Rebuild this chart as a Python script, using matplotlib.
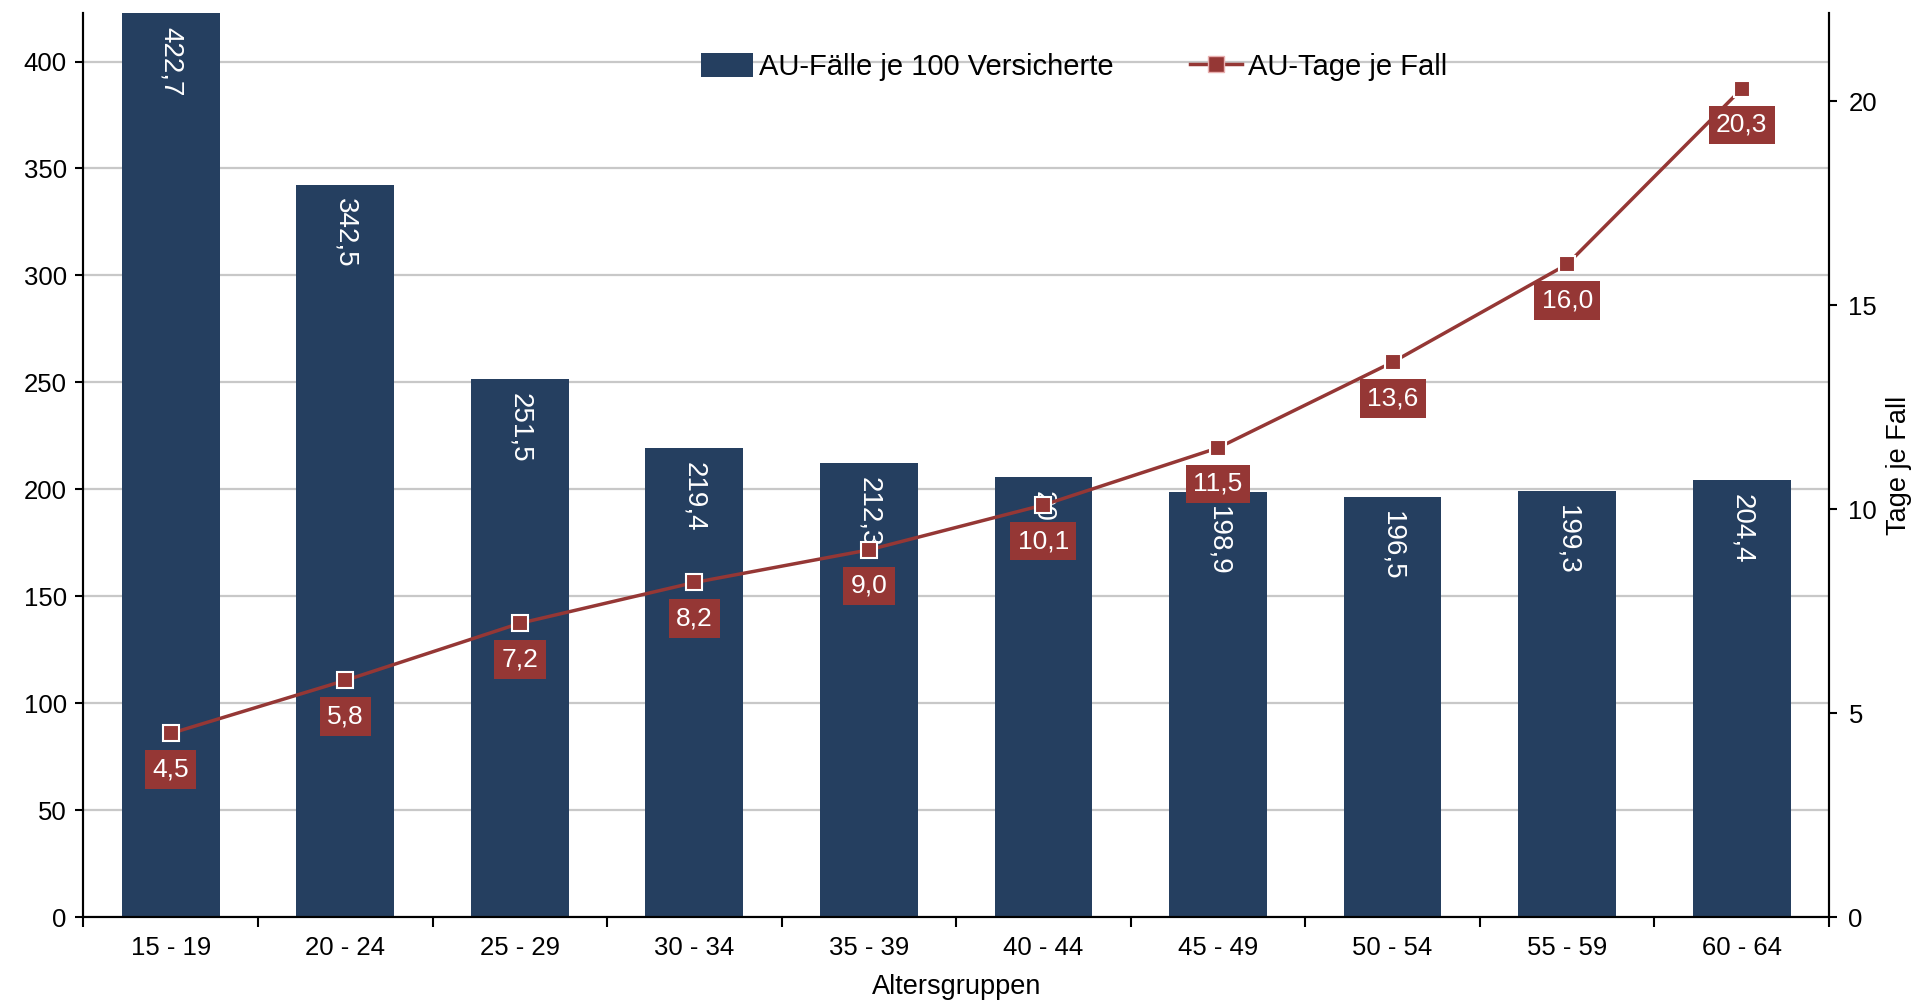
import matplotlib
matplotlib.use("Agg")
import matplotlib.pyplot as plt
from matplotlib.lines import Line2D
from matplotlib.patches import Patch
import numpy as np

categories = ["15 - 19", "20 - 24", "25 - 29", "30 - 34", "35 - 39",
              "40 - 44", "45 - 49", "50 - 54", "55 - 59", "60 - 64"]
faelle = [422.7, 342.5, 251.5, 219.4, 212.3, 205.8, 198.9, 196.5, 199.3, 204.4]
tage = [4.5, 5.8, 7.2, 8.2, 9.0, 10.1, 11.5, 13.6, 16.0, 20.3]
left_ticks = [0, 50, 100, 150, 200, 250, 300, 350, 400]
right_ticks = [0, 5, 10, 15, 20]

bar_color = "#253F60"
line_color = "#953735"
grid_color = "#C8C8C8"

plt.rcParams['font.family'] = ['Liberation Sans', 'DejaVu Sans']

fig = plt.figure(figsize=(19.15, 10.05), dpi=100)
fig.patch.set_facecolor("white")
ax = fig.add_axes([83.4/1915, 88/1005, (1829-83.4)/1915, (917-13)/1005])
ax2 = ax.twinx()

x = np.arange(len(categories))
ax.bar(x, faelle, width=0.56, color=bar_color, zorder=2)
ax.set_ylim(0, 422.7)
ax.set_xlim(-0.5, len(categories) - 0.5)
ax.set_yticks(left_ticks)
ax.set_yticklabels([str(t) for t in left_ticks])
ax.yaxis.grid(True, color=grid_color, linewidth=1.6, zorder=0)
ax.set_axisbelow(True)

for xi, v in zip(x, faelle):
    ax.annotate(f"{v:.1f}".replace(".", ","), (xi, v), xytext=(0, -10),
                textcoords="offset points", rotation=270, ha="center", va="top",
                color="white", fontsize=20, zorder=3)

ax.set_xticks(x)
ax.set_xticklabels(categories, fontsize=18.5)
ax.set_xticks(np.arange(-0.5, len(categories)), minor=True)
ax.tick_params(axis="x", which="major", length=0, pad=14)
ax.tick_params(axis="x", which="minor", length=7, width=1.5, direction="out")
ax.tick_params(axis="y", length=6, width=1.5, labelsize=18.5, pad=6)
ax.set_xlabel("Altersgruppen", fontsize=19.5, labelpad=10)

for s in ["top"]:
    ax.spines[s].set_visible(False)
    ax2.spines[s].set_visible(False)
for s in ["left", "bottom", "right"]:
    ax.spines[s].set_linewidth(1.5)
    ax2.spines[s].set_linewidth(1.5)

ax2.plot(x, tage, color=line_color, linewidth=2.5, marker="s", markersize=11,
         markerfacecolor=line_color, markeredgecolor="white", markeredgewidth=1.5,
         zorder=3)
ax2.set_ylim(0, 22.16)
ax2.set_yticks(right_ticks)
ax2.set_yticklabels([str(t) for t in right_ticks])
ax2.tick_params(axis="y", length=6, width=1.5, labelsize=18.5, pad=8)
ax2.set_ylabel("Tage je Fall", fontsize=19.5, labelpad=6)

for xi, v in zip(x, tage):
    ax2.annotate(f"{v:.1f}".replace(".", ","), (xi, v), xytext=(0, -26),
                 textcoords="offset points", ha="center", va="center",
                 color="white", fontsize=19, zorder=5,
                 bbox=dict(boxstyle="square,pad=0.28", facecolor=line_color,
                           edgecolor="none"))

handles = [Patch(facecolor=bar_color, edgecolor="none"),
           Line2D([0], [0], color=line_color, linewidth=2.5, marker="s",
                  markersize=11, markerfacecolor=line_color,
                  markeredgecolor="#E8B0B0", markeredgewidth=1)]
labels = ["AU-Fälle je 100 Versicherte", "AU-Tage je Fall"]
leg = fig.legend(handles, labels, loc="center", bbox_to_anchor=(1074/1915, 1 - 67/1005),
                 ncol=2, frameon=False, fontsize=21, handlelength=1.8,
                 handleheight=0.9, handletextpad=0.2, columnspacing=2.6)

fig.savefig("out.png", dpi=100, facecolor="white")
